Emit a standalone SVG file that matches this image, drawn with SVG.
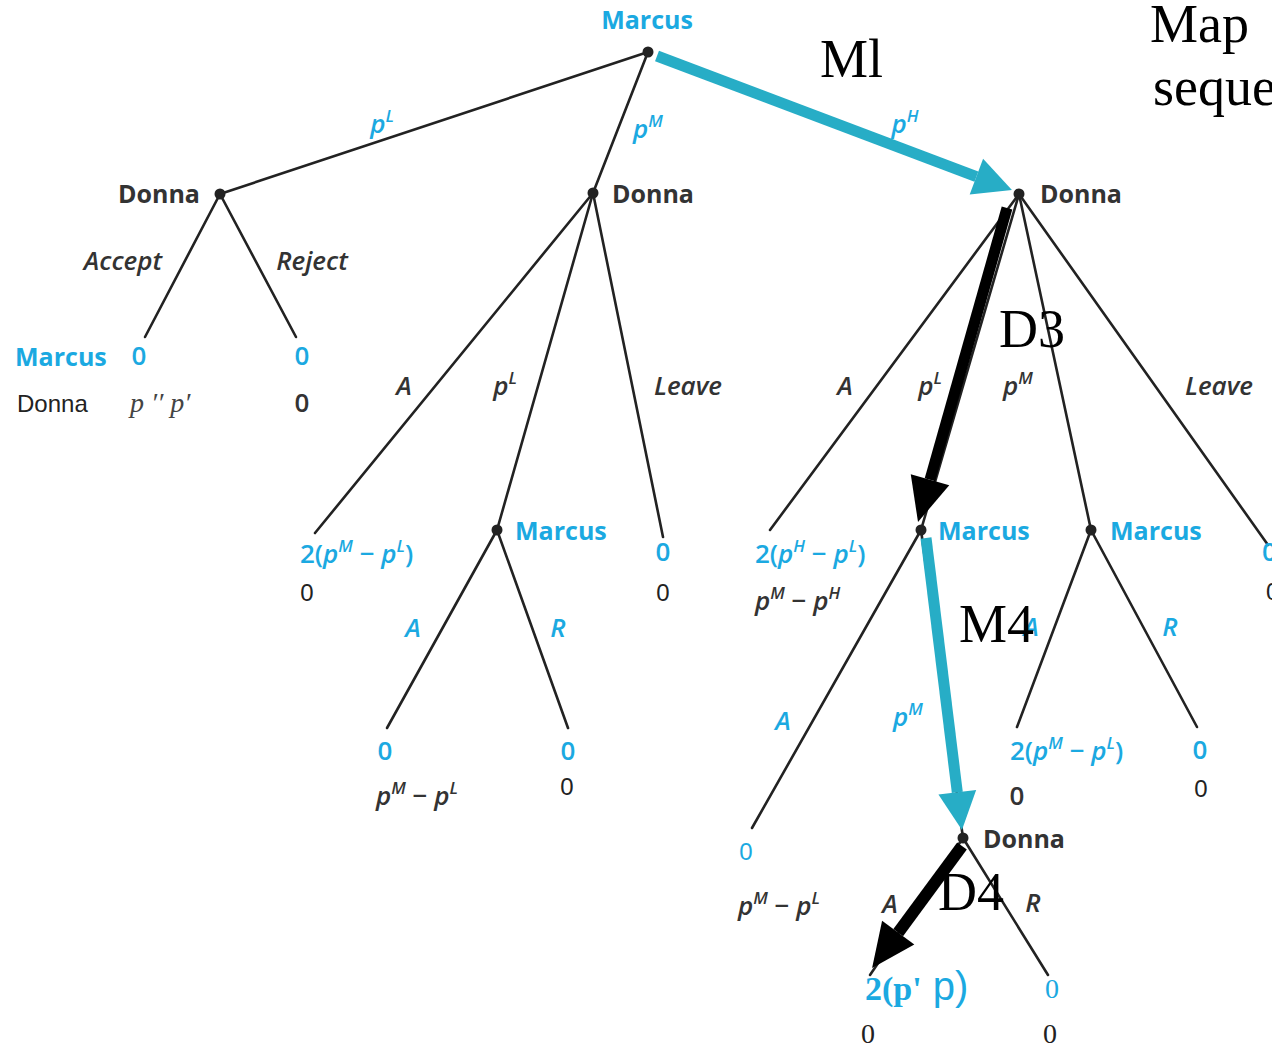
<svg xmlns="http://www.w3.org/2000/svg" width="1272" height="1054" viewBox="0 0 1272 1054">
<defs>
<style>
.edge{stroke:#222;stroke-width:2.6;fill:none;stroke-linecap:round}
.dot{fill:#222}
.bl{fill:#1BA9E1}
.dk{fill:#333}
.nl{font-family:"Open Sans","Noto Sans",sans-serif;font-weight:700;font-size:25px}
.it{font-family:"Open Sans","Noto Sans",sans-serif;font-style:italic;font-weight:600;font-size:26px}
.mx{font-family:"Open Sans","Noto Sans",sans-serif;font-weight:600;font-size:26px}
.rg{font-family:"Liberation Sans",Arial,sans-serif;font-size:24px}
.sf{font-family:"Liberation Serif","Times New Roman",serif}
.big{font-family:"Liberation Serif","Times New Roman",serif;font-size:54px;fill:#000}
.p{font-style:italic}
.sup{font-size:17px;font-style:italic}
</style>
<marker id="hc" markerUnits="userSpaceOnUse" markerWidth="50" markerHeight="50" refX="0" refY="0" orient="auto" overflow="visible"><path d="M0,-19 L38,0 L0,19 z" fill="#27ADC6"/></marker>
<marker id="hk" markerUnits="userSpaceOnUse" markerWidth="50" markerHeight="50" refX="0" refY="0" orient="auto" overflow="visible"><path d="M0,-20 L44,0 L0,20 z" fill="#000"/></marker>
</defs>
<rect width="1272" height="1054" fill="#fff"/>

<g id="connectors">
<line class="edge" x1="648" y1="52" x2="220" y2="194"/>
<line class="edge" x1="648" y1="52" x2="593" y2="193"/>
<line class="edge" x1="220" y1="194" x2="145" y2="337"/>
<line class="edge" x1="220" y1="194" x2="296" y2="337"/>
<line class="edge" x1="593" y1="193" x2="315" y2="533"/>
<line class="edge" x1="593" y1="193" x2="497" y2="530"/>
<line class="edge" x1="593" y1="193" x2="663" y2="537"/>
<line class="edge" x1="497" y1="530" x2="387" y2="728"/>
<line class="edge" x1="497" y1="530" x2="568" y2="728"/>
<line class="edge" x1="1019" y1="194" x2="770" y2="530"/>
<line class="edge" x1="1019" y1="194" x2="921" y2="530"/>
<line class="edge" x1="1019" y1="194" x2="1091" y2="530"/>
<line class="edge" x1="1019" y1="194" x2="1268" y2="545"/>
<line class="edge" x1="921" y1="530" x2="752" y2="828"/>
<line class="edge" x1="921" y1="530" x2="963" y2="838"/>
<line class="edge" x1="1091" y1="530" x2="1017" y2="727"/>
<line class="edge" x1="1091" y1="530" x2="1197" y2="727"/>
<line class="edge" x1="963" y1="838" x2="1048" y2="975"/>
<line class="edge" x1="963" y1="838" x2="870" y2="975"/>
</g>

<g id="edge-labels">
<text class="it bl" x="382" y="133" text-anchor="middle"><tspan>p</tspan><tspan class="sup" dy="-11">L</tspan></text>
<text class="it bl" x="648" y="138" text-anchor="middle"><tspan>p</tspan><tspan class="sup" dy="-11">M</tspan></text>
<text class="it bl" x="905" y="133" text-anchor="middle"><tspan>p</tspan><tspan class="sup" dy="-11">H</tspan></text>
<text class="it dk" x="123" y="270" text-anchor="middle">Accept</text>
<text class="it dk" x="312" y="270" text-anchor="middle">Reject</text>
<text class="it dk" x="404" y="395" text-anchor="middle">A</text>
<text class="it dk" x="505" y="395" text-anchor="middle"><tspan>p</tspan><tspan class="sup" dy="-11">L</tspan></text>
<text class="it dk" x="688" y="395" text-anchor="middle">Leave</text>
<text class="it dk" x="845" y="395" text-anchor="middle">A</text>
<text class="it dk" x="930" y="395" text-anchor="middle"><tspan>p</tspan><tspan class="sup" dy="-11">L</tspan></text>
<text class="it dk" x="1018" y="395" text-anchor="middle"><tspan>p</tspan><tspan class="sup" dy="-11">M</tspan></text>
<text class="it dk" x="1219" y="395" text-anchor="middle">Leave</text>
<text class="it bl" x="413" y="637" text-anchor="middle">A</text>
<text class="it bl" x="558" y="637" text-anchor="middle">R</text>
<text class="it bl" x="783" y="730" text-anchor="middle">A</text>
<text class="it bl" x="908" y="726" text-anchor="middle"><tspan>p</tspan><tspan class="sup" dy="-11">M</tspan></text>
<text class="it bl" x="1031" y="636" text-anchor="middle">A</text>
<text class="it bl" x="1170" y="636" text-anchor="middle">R</text>
<text class="it dk" x="890" y="913" text-anchor="middle">A</text>
<text class="it dk" x="1033" y="912" text-anchor="middle">R</text>
</g>

<g id="path-arrows">
<line x1="657" y1="56" x2="976.4" y2="176.6" stroke="#27ADC6" stroke-width="11" marker-end="url(#hc)"/>
<line x1="1007" y1="208" x2="930" y2="479.7" stroke="#000" stroke-width="11" marker-end="url(#hk)"/>
<line x1="926" y1="538" x2="957.3" y2="792.3" stroke="#27ADC6" stroke-width="11" marker-end="url(#hc)"/>
<line x1="962" y1="846" x2="898.2" y2="932.6" stroke="#000" stroke-width="12" marker-end="url(#hk)"/>
</g>

<g id="n-root"><circle class="dot" cx="648" cy="52" r="5.5"/><text class="nl bl" x="647" y="29" text-anchor="middle" font-size="22">Marcus</text></g>
<g id="n-donna-l"><circle class="dot" cx="220" cy="194" r="5.5"/><text class="nl dk" x="118" y="203" font-size="26">Donna</text></g>
<g id="n-donna-m"><circle class="dot" cx="593" cy="193" r="5.5"/><text class="nl dk" x="612" y="203" font-size="26">Donna</text></g>
<g id="n-donna-h"><circle class="dot" cx="1019" cy="194" r="5.5"/><text class="nl dk" x="1040" y="203" font-size="26">Donna</text></g>
<g id="n-marcus-m"><circle class="dot" cx="497" cy="530" r="5.5"/><text class="nl bl" x="515" y="540">Marcus</text></g>
<g id="n-marcus-hl"><circle class="dot" cx="921" cy="530" r="5.5"/><text class="nl bl" x="938" y="540">Marcus</text></g>
<g id="n-marcus-hm"><circle class="dot" cx="1091" cy="530" r="5.5"/><text class="nl bl" x="1110" y="540">Marcus</text></g>
<g id="n-donna-b"><circle class="dot" cx="963" cy="838" r="5.5"/><text class="nl dk" x="983" y="848" font-size="26">Donna</text></g>

<g id="leaf-left">
<text class="nl bl" x="15" y="366">Marcus</text>
<text class="mx bl" x="139" y="365" text-anchor="middle">0</text>
<text class="mx bl" x="302" y="365" text-anchor="middle">0</text>
<text class="rg" x="17" y="412" fill="#222" font-size="25">Donna</text>
<text class="sf" x="130" y="412" font-size="28" font-style="italic" fill="#444">p ′′ p′</text>
<text class="mx dk" x="302" y="412" text-anchor="middle">0</text>
</g>

<g id="leaf-m">
<text class="mx bl" x="300" y="563">2(<tspan class="p">p</tspan><tspan class="sup" dy="-11">M</tspan><tspan dy="11"> − </tspan><tspan class="p">p</tspan><tspan class="sup" dy="-11">L</tspan><tspan dy="11">)</tspan></text>
<text class="rg" x="307" y="601" text-anchor="middle" fill="#222">0</text>
<text class="mx bl" x="663" y="561" text-anchor="middle">0</text>
<text class="rg" x="663" y="601" text-anchor="middle" fill="#222">0</text>
<text class="mx bl" x="385" y="760" text-anchor="middle">0</text>
<text class="mx dk" x="376" y="805"><tspan class="p">p</tspan><tspan class="sup" dy="-11">M</tspan><tspan dy="11"> − </tspan><tspan class="p">p</tspan><tspan class="sup" dy="-11">L</tspan></text>
<text class="mx bl" x="568" y="760" text-anchor="middle">0</text>
<text class="rg" x="567" y="795" text-anchor="middle" fill="#222">0</text>
</g>

<g id="leaf-h">
<text class="mx bl" x="755" y="563">2(<tspan class="p">p</tspan><tspan class="sup" dy="-11">H</tspan><tspan dy="11"> − </tspan><tspan class="p">p</tspan><tspan class="sup" dy="-11">L</tspan><tspan dy="11">)</tspan></text>
<text class="mx dk" x="755" y="610"><tspan class="p">p</tspan><tspan class="sup" dy="-11">M</tspan><tspan dy="11"> − </tspan><tspan class="p">p</tspan><tspan class="sup" dy="-11">H</tspan></text>
<text class="mx bl" x="1262" y="561">0</text>
<text class="rg" x="1266" y="600" fill="#222">0</text>
<text class="rg bl" x="746" y="860" text-anchor="middle">0</text>
<text class="mx dk" x="738" y="915"><tspan class="p">p</tspan><tspan class="sup" dy="-11">M</tspan><tspan dy="11"> − </tspan><tspan class="p">p</tspan><tspan class="sup" dy="-11">L</tspan></text>
<text class="mx bl" x="1010" y="760">2(<tspan class="p">p</tspan><tspan class="sup" dy="-11">M</tspan><tspan dy="11"> − </tspan><tspan class="p">p</tspan><tspan class="sup" dy="-11">L</tspan><tspan dy="11">)</tspan></text>
<text class="mx dk" x="1017" y="805" text-anchor="middle">0</text>
<text class="mx bl" x="1200" y="759" text-anchor="middle">0</text>
<text class="rg" x="1201" y="797" text-anchor="middle" fill="#222">0</text>
<text class="bl" x="865" y="1000"><tspan class="sf" font-size="34" font-weight="700">2(p'</tspan><tspan font-family="Liberation Sans,sans-serif" font-size="40"> p)</tspan></text>
<text class="sf bl" x="1052" y="998" font-size="28" text-anchor="middle">0</text>
<text class="sf" x="868" y="1043" font-size="28" text-anchor="middle" fill="#222">0</text>
<text class="sf" x="1050" y="1043" font-size="28" text-anchor="middle" fill="#222">0</text>
</g>

<g id="annotations">
<text class="big" x="820" y="77">Ml</text>
<text class="big" x="1150" y="42" font-size="52">Map</text>
<text class="big" x="1153" y="105" font-size="52">seque</text>
<text class="big" x="999" y="347" font-size="52">D3</text>
<text class="big" x="959" y="642">M4</text>
<text class="big" x="938" y="910" font-size="52">D4</text>
</g>
</svg>
